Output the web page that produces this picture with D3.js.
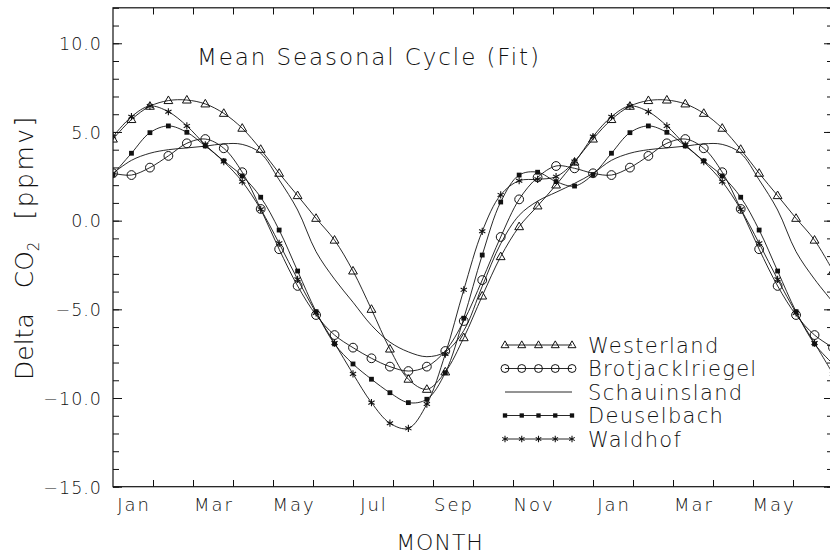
<!DOCTYPE html>
<html>
<head>
<meta charset="utf-8">
<script src="https://d3js.org/d3.v7.min.js"></script>
<style>
  body { margin: 0; background: #fff; }
  text { font-family: 'DejaVu Sans', sans-serif; font-weight: 200; fill: #111; }
</style>
</head>
<body>
<script>
var width = 830, height = 554

// month labels along the bottom (18 months shown, Jan .. Jun of next year)
var monthNames = ['Jan','Feb','Mar','Apr','May','Jun','Jul','Aug','Sep','Oct','Nov','Dec','Jan','Feb','Mar','Apr','May','Jun']
var yTicks = [-15, -10, -5, 0, 5, 10]

// mean seasonal cycle (fit), ppmv, read every 1/26 year starting Jan 1
var westerland   = [4.6, 5.7, 6.45, 6.77, 6.8, 6.58, 6.05, 5.21, 4.02, 2.67, 1.41, 0.13, -1.1, -2.84, -5.0, -7.24, -8.94, -9.51, -8.53, -6.6, -4.25, -2.03, -0.34, 0.83, 2.01, 3.3]
var brotjack     = [2.67, 2.57, 2.99, 3.65, 4.36, 4.6, 4.08, 2.73, 0.66, -1.61, -3.68, -5.32, -6.45, -7.16, -7.76, -8.23, -8.48, -8.23, -7.35, -5.66, -3.35, -0.92, 1.2, 2.44, 3.08, 2.95]
var schauinsland = [2.67, 3.4, 3.8, 4.0, 4.1, 4.2, 4.33, 4.3, 3.8, 2.3, 0.6, -1.75, -3.3, -4.6, -5.9, -6.85, -7.4, -7.67, -7.4, -6.2, -3.7, -1.3, 0.3, 1.1, 1.6, 2.1]
var deuselbach   = [2.6, 3.8, 4.96, 5.34, 4.98, 4.21, 3.37, 2.52, 1.32, -0.53, -2.84, -5.13, -6.95, -8.08, -8.94, -9.7, -10.26, -10.07, -8.57, -5.5, -1.94, 1.05, 2.57, 2.73, 2.2, 1.95]
var waldhof      = [4.74, 5.86, 6.46, 6.14, 5.34, 4.27, 3.33, 2.2, 0.64, -1.28, -3.31, -5.2, -6.9, -8.64, -10.26, -11.42, -11.71, -10.34, -7.52, -3.9, -0.6, 1.45, 2.25, 2.33, 2.48, 3.33]

var stations = [
  {name: 'Westerland', values: westerland, marker: 'triangle'},
  {name: 'Brotjacklriegel', values: brotjack, marker: 'circle'},
  {name: 'Schauinsland', values: schauinsland, marker: 'none'},
  {name: 'Deuselbach', values: deuselbach, marker: 'square'},
  {name: 'Waldhof', values: waldhof, marker: 'asterisk'}
]

var pLeft = 113, pRight = 833, pTop = 7.8, pBottom = 486.7

var svg = d3.select('body').append('svg')
  .attr('width', width)
  .attr('height', height)

var x = d3.scaleLinear().domain([0, 18]).range([pLeft, pRight])
var y = d3.scaleLinear().domain([-15, 12]).range([pBottom, pTop])

svg.append('defs').append('clipPath').attr('id', 'plot')
  .append('rect')
  .attr('x', pLeft).attr('y', pTop)
  .attr('width', pRight - pLeft).attr('height', pBottom - pTop)

// the cycle repeats, 18 months -> 1.5 cycles
var perYear = westerland.length
var shown = Math.round(18 / 12 * perYear) + 1
function series(vals) {
  return d3.range(shown).map(i => ({m: i * 12 / perYear, v: vals[i % perYear]}))
}

var line = d3.line()
  .x(d => x(d.m))
  .y(d => y(d.v))
  .curve(d3.curveCatmullRom.alpha(0.5))

function marker(sel, type, s) {
  if (type == 'triangle') {
    sel.append('path')
      .attr('d', 'M0,' + (-4.6 * s) + 'L' + (4.4 * s) + ',' + (3 * s) + 'L' + (-4.4 * s) + ',' + (3 * s) + 'Z')
      .attr('fill', 'none').attr('stroke', '#111').attr('stroke-width', 1)
  } else if (type == 'circle') {
    sel.append('circle').attr('r', 4.4 * s)
      .attr('fill', 'none').attr('stroke', '#111').attr('stroke-width', 1)
  } else if (type == 'square') {
    sel.append('rect')
      .attr('x', -2.4 * s).attr('y', -2.4 * s)
      .attr('width', 4.8 * s).attr('height', 4.8 * s)
      .attr('fill', '#111')
  } else if (type == 'asterisk') {
    [90, 30, 150].forEach(a => {
      var r = 3.6 * s, t = a * Math.PI / 180
      sel.append('line')
        .attr('x1', -r * Math.cos(t)).attr('y1', -r * Math.sin(t))
        .attr('x2', r * Math.cos(t)).attr('y2', r * Math.sin(t))
        .attr('stroke', '#111').attr('stroke-width', 1.1)
    })
  }
}

var plot = svg.append('g').attr('clip-path', 'url(#plot)')

stations.forEach(st => {
  var pts = series(st.values)
  plot.append('path')
    .datum(pts)
    .attr('d', line)
    .attr('fill', 'none')
    .attr('stroke', '#111')
    .attr('stroke-width', 0.9)

  if (st.marker != 'none') {
    plot.selectAll('.m-' + st.marker)
      .data(pts)
      .enter()
      .append('g')
      .attr('class', 'm-' + st.marker)
      .attr('transform', d => 'translate(' + x(d.m) + ',' + y(d.v) + ')')
      .each(function () { marker(d3.select(this), st.marker, 1) })
  }
})

// frame
svg.append('rect')
  .attr('x', pLeft).attr('y', pTop)
  .attr('width', pRight - pLeft).attr('height', pBottom - pTop)
  .attr('fill', 'none').attr('stroke', '#111').attr('stroke-width', 1.2)

function styleAxis(g) {
  g.select('.domain').remove()
  g.selectAll('.tick line').attr('stroke', '#111').attr('stroke-width', 1)
  g.attr('font-family', null).attr('font-size', null)
}

var yMinor = d3.range(-15, 13)
svg.append('g').attr('transform', 'translate(' + pLeft + ',0)')
  .call(d3.axisLeft(y).tickValues(yMinor).tickSize(-6).tickFormat(''))
  .call(styleAxis)
svg.append('g').attr('transform', 'translate(' + pLeft + ',0)')
  .call(d3.axisLeft(y).tickValues(yTicks).tickSize(-9).tickPadding(11).tickFormat(d3.format('.1f')))
  .call(styleAxis)
  .selectAll('text')
  .style('font-size', '17.5px')
  .style('letter-spacing', '1px')
  .attr('dy', '0.36em')

svg.append('g').attr('transform', 'translate(' + pRight + ',0)')
  .call(d3.axisRight(y).tickValues(yMinor).tickSize(-6).tickFormat(''))
  .call(styleAxis)
svg.append('g').attr('transform', 'translate(' + pRight + ',0)')
  .call(d3.axisRight(y).tickValues(yTicks).tickSize(-9).tickFormat(''))
  .call(styleAxis)

var monthEdges = d3.range(1, 18)
svg.append('g').attr('transform', 'translate(0,' + pBottom + ')')
  .call(d3.axisBottom(x).tickValues(monthEdges).tickSize(-6.7).tickFormat(''))
  .call(styleAxis)
svg.append('g').attr('transform', 'translate(0,' + pTop + ')')
  .call(d3.axisTop(x).tickValues(monthEdges).tickSize(-6.7).tickFormat(''))
  .call(styleAxis)

svg.selectAll('.month')
  .data(monthNames.map((m, i) => ({m: m, i: i})).filter(d => d.i % 2 == 0))
  .enter()
  .append('text')
  .attr('class', 'month')
  .attr('x', d => x(d.i + 0.5) + 1)
  .attr('y', 510.5)
  .attr('text-anchor', 'middle')
  .style('font-size', '18px')
  .style('letter-spacing', '2px')
  .text(d => d.m)

// titles
svg.append('text')
  .attr('x', 197).attr('y', 65)
  .style('font-size', '23px')
  .style('letter-spacing', '1.9px')
  .text('Mean Seasonal Cycle (Fit)')

svg.append('text')
  .attr('x', 440).attr('y', 550)
  .attr('text-anchor', 'middle')
  .style('font-size', '22px')
  .style('letter-spacing', '1px')
  .text('MONTH')

var ylab = svg.append('text')
  .attr('transform', 'translate(33,380)rotate(-90)')
  .style('font-size', '25px')
ylab.append('tspan').text('Delta')
ylab.append('tspan').attr('dx', 25).text('CO')
ylab.append('tspan').attr('dy', 6).style('font-size', '15px').text('2')
ylab.append('tspan').attr('dy', -6).attr('dx', 22).style('letter-spacing', '2.5px').text('[ppmv]')

// legend
var legend = svg.append('g')
var rows = legend.selectAll('.row')
  .data(stations)
  .enter()
  .append('g')
  .attr('class', 'row')
  .attr('transform', (d, i) => 'translate(0,' + (345 + i * 23.5) + ')')

rows.append('line')
  .attr('x1', 505).attr('x2', 572)
  .attr('stroke', '#111').attr('stroke-width', 0.9)

rows.each(function (st) {
  var r = d3.select(this)
  if (st.marker == 'none') return
  r.selectAll('.lm')
    .data(d3.range(5))
    .enter()
    .append('g')
    .attr('transform', i => 'translate(' + (505 + i * 16.75) + ',0)')
    .each(function () { marker(d3.select(this), st.marker, 0.9) })
})

rows.append('text')
  .attr('x', 588).attr('y', 7.5)
  .style('font-size', '21px')
  .style('letter-spacing', '1.3px')
  .text(d => d.name)
</script>
</body>
</html>
